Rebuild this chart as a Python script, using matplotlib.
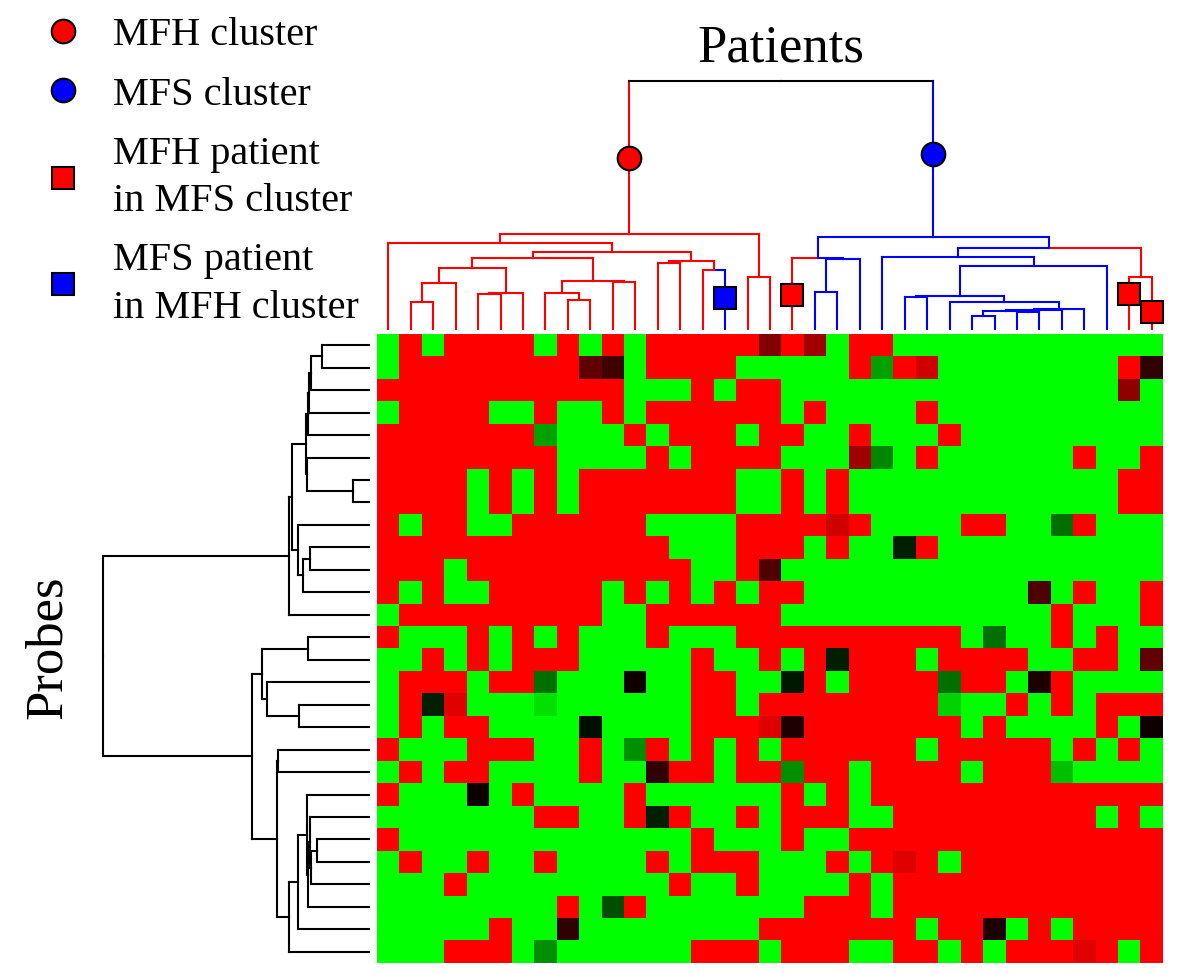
import matplotlib.pyplot as plt
from matplotlib.colors import LinearSegmentedColormap
from matplotlib.lines import Line2D

plt.rcParams["font.family"] = ["Liberation Serif", "DejaVu Serif"]

R, G = 1.0, -1.0

# probe x patient expression (+1 red = up, -1 green = down), rows top to bottom
expression = [
    [G, R, G, R, R, R, R, G, R, G, R, G] + [R] * 5 + [.5, R, .63, G, R, R] + [G] * 12,
    [G] + [R] * 8 + [.38, .25, G] + [R] * 4 + [G] * 5 + [R, -.63, R, .82] + [G] * 8 + [R, .19],
    [R] * 11 + [G, G, G, R, G, R, R] + [G] * 15 + [.56, G],
    [G, R, R, R, R, G, G, R, G, G, R, G] + [R] * 6 + [G, R, G, G, G, G, R] + [G] * 10,
    [R] * 7 + [-.63, G, G, G, R, G, R, R, R, G, R, R, G, G, R, G, G, G, R] + [G] * 9,
    [R] * 8 + [G, G, G, G, R, G, R, R, R, R, G, G, G, .63, -.53, G, R] + [G] * 6 + [R, G, G, R],
    [R, R, R, R, G, R, G, R, G] + [R] * 7 + [G, G, R, G, R] + [G] * 12 + [R, R],
    [R, R, R, R, G, R, G, R, G] + [R] * 7 + [G, G, R, G, R] + [G] * 12 + [R, R],
    [R, G, R, R, G, G] + [R] * 6 + [G] * 4 + [R] * 4 + [.82, R, G, G, G, G, R, R, G, G, -.44, R, G, G, G],
    [R] * 13 + [G, G, G, R, R, R, G, R, G, G, -.12, R] + [G] * 10,
    [R, R, R, G] + [R] * 10 + [G, G, R, .31] + [G] * 17,
    [R, G, R, G, G] + [R] * 5 + [G, R, G, R, G, R, G, R, R] + [G] * 10 + [.31, G, R, G, G, R],
    [G] + [R] * 9 + [G, G] + [R] * 6 + [G] * 12 + [R, G, G, G, R],
    [R, G, G, G, R, G, R, G, R, G, G, G, R, G, G, G] + [R] * 10 + [G, -.44, G, G, R, G, R, G, G],
    [G, G, R, G, R, G, R, R, R] + [G] * 5 + [R, G, G, R, G, R, -.12, R, R, R, G, R, R, R, R, G, G, R, R, G, .38],
    [G, R, R, R, G, R, R, -.44, G, G, G, .06, G, G, R, R, G, G, -.1, R, G, R, R, R, R, -.44, R, R, G, .12, R, G, G, G, G],
    [G, R, -.12, .88, G, G, G, -.88] + [G] * 6 + [R, R, G] + [R] * 8 + [-.82, G, G, R, G, R, G, R, R, R],
    [G, R, G, R, R, G, G, G, G, -.06, G, G, G, G, R, R, R, .88, .12] + [R] * 7 + [G, R, G, G, G, G, R, G, .06],
    [R, G, G, G, R, R, R, G, G, R, G, -.56, R, G, R, G, R, G] + [R] * 6 + [G] + [R] * 5 + [G, R, G, R, G],
    [G, R, G, R, R, G, G, G, G, R, G, G, .19, R, R, G, R, R, -.56, R, R, G, R, R, R, R, G, R, R, R, -.75, G, G, G, G],
    [R, G, G, G, .06, G, R, G, G, G, G, R] + [G] * 6 + [R, G, R, G] + [R] * 13,
    [G] * 7 + [R, R, G, G, R, -.12, R, G, G, R, G, R, R, R, G, G] + [R] * 9 + [G, R, G],
    [R] + [G] * 13 + [R, G, G, G, R, G, G] + [R] * 14,
    [G, R, G, G, R, G, G, R, G, G, G, G, R, G, R, R, R, G, G, G, R, G, R, .88, R, G] + [R] * 9,
    [G, G, G, R] + [G] * 9 + [R, G, G, R, G, G, G, G, R, G] + [R] * 12,
    [G] * 8 + [R, G, -.31, R] + [G] * 7 + [R, R, R, G] + [R] * 12,
    [G] * 5 + [R, G, G, .19] + [G] * 8 + [R] * 7 + [G, R, R, .12, G, R, G, R, R, R, R],
    [G, G, G, R, R, R, G, -.56] + [G] * 6 + [R, R, R, G, R, R, R, G, G, R, R, G, R, G, R, R, R, .88, R, G, R],
]

# patient tree: (left, right, distance); ids >= 35 are earlier merges
patient_merges = [
    (1, 2, 0.28), (35, 3, 0.47), (4, 5, 0.36), (37, 6, 0.37), (36, 38, 0.62),
    (8, 9, 0.30), (7, 40, 0.37), (10, 11, 0.48), (41, 42, 0.49), (39, 43, 0.72),
    (12, 13, 0.67), (14, 15, 0.60), (45, 46, 0.69), (44, 47, 0.78), (0, 48, 0.87),
    (16, 17, 0.53), (49, 50, 0.96),
    (19, 20, 0.38), (52, 21, 0.71), (18, 53, 0.72), (26, 27, 0.14), (28, 29, 0.18),
    (55, 56, 0.19), (57, 30, 0.20), (58, 31, 0.21), (25, 59, 0.28), (23, 24, 0.33),
    (61, 60, 0.34), (62, 32, 0.64), (22, 63, 0.73), (33, 34, 0.53), (64, 65, 0.82),
    (54, 66, 0.93), (51, 67, 2.49),
]
patient_type = ["MFH"] * 15 + ["MFS"] + ["MFH"] * 3 + ["MFS"] * 14 + ["MFH"] * 2
patient_cluster = ["MFH"] * 18 + ["MFS"] * 17
cluster_nodes = [51, 67]
cluster_marker_heights = [1.72, 1.76]
misplaced_patients = [15, 18, 33, 34]
misplaced_heights = [0.32, 0.35, 0.36, 0.18]

# probe tree
probe_merges = [
    (0, 1, 0.48), (28, 2, 0.59), (29, 3, 0.61), (30, 4, 0.62), (6, 7, 0.17),
    (5, 32, 0.63), (31, 33, 0.64), (9, 10, 0.60), (35, 11, 0.67), (8, 36, 0.72),
    (34, 37, 0.78), (38, 12, 0.81), (13, 14, 0.62), (16, 17, 0.71), (15, 41, 1.03),
    (40, 42, 1.08), (22, 23, 0.53), (44, 24, 0.59), (21, 45, 0.60), (46, 25, 0.62),
    (20, 47, 0.63), (48, 26, 0.72), (49, 27, 0.81), (18, 19, 0.92), (51, 50, 0.93),
    (43, 52, 1.18), (39, 53, 2.67),
]

type_color = {"MFH": "#ff0000", "MFS": "#0000ff"}
W, H = 1200, 975
LW = 1.5


def tree_layout(merges, n_leaves):
    pos = [i + 0.5 for i in range(n_leaves)]
    height = [0.0] * n_leaves
    first_leaf = list(range(n_leaves))
    for a, b, h in merges:
        pos.append((pos[a] + pos[b]) / 2)
        height.append(h)
        first_leaf.append(first_leaf[a])
    return pos, height, first_leaf


def draw_tree(ax, merges, n_leaves, colors, vertical=True, root_color="black"):
    pos, height, _ = tree_layout(merges, n_leaves)
    for k, (a, b, h) in enumerate(merges):
        node = n_leaves + k
        is_root = k == len(merges) - 1
        for child in (a, b):
            c = colors[child]
            hc = root_color if is_root else c
            xs1, ys1 = [pos[child], pos[child]], [height[child], h]
            xs2, ys2 = [pos[child], pos[node]], [h, h]
            if not vertical:
                xs1, ys1, xs2, ys2 = ys1, xs1, ys2, xs2
            ax.plot(xs1, ys1, color=c, lw=LW, solid_capstyle="projecting")
            ax.plot(xs2, ys2, color=hc, lw=LW, solid_capstyle="projecting")
    return pos, height


def px_axes(x0, y0, x1, y1):
    return fig.add_axes([x0 / W, 1 - y1 / H, (x1 - x0) / W, (y1 - y0) / H])


fig = plt.figure(figsize=(12, 9.75), dpi=100)

# heatmap
cmap = LinearSegmentedColormap.from_list("gkr", ["#00ff00", "#000000", "#ff0000"])
n_probes, n_patients = len(expression), len(expression[0])
ax_hm = px_axes(377, 334, 1163, 963)
ax_hm.imshow(expression, cmap=cmap, vmin=-1, vmax=1, aspect="auto",
             interpolation="nearest", extent=(0, n_patients, n_probes, 0))
ax_hm.axis("off")

# patient dendrogram
n_p = len(patient_type)
_, _, first = tree_layout(patient_merges, n_p)
node_colors = [type_color[t] for t in patient_type]
for k, (a, b, h) in enumerate(patient_merges):
    if node_colors[a] == node_colors[b]:
        node_colors.append(node_colors[a])
    else:
        node_colors.append(type_color[patient_cluster[first[n_p + k]]])

ax_top = px_axes(377, 70, 1163, 330)
pos, height = draw_tree(ax_top, patient_merges, n_p, node_colors)
for node, h in zip(cluster_nodes, cluster_marker_heights):
    ax_top.plot(pos[node], h, "o", ms=17, mfc=node_colors[node], mec="black",
                mew=1.5, zorder=5)
for leaf, h in zip(misplaced_patients, misplaced_heights):
    ax_top.plot(pos[leaf], h, "s", ms=16.5, mfc=type_color[patient_type[leaf]],
                mec="black", mew=1.5, zorder=5, clip_on=False)
ax_top.set_xlim(0, n_patients)
ax_top.set_ylim(0, 2.6)
ax_top.axis("off")

# probe dendrogram
ax_left = px_axes(95, 334, 370, 963)
n_r = len(expression)
draw_tree(ax_left, probe_merges, n_r, ["black"] * (n_r + len(probe_merges)), vertical=False)
ax_left.set_xlim(2.75, 0)
ax_left.set_ylim(n_probes, 0)
ax_left.axis("off")

fig.text(781 / W, 1 - 62 / H, "Patients", ha="center", va="baseline", fontsize=38)
fig.text(48 / W, 1 - 647 / H, "Probes", rotation=90, ha="center", va="center", fontsize=38)

handles = [
    Line2D([], [], ls="none", marker="o", ms=17, mfc=type_color["MFH"], mec="black", mew=1.5),
    Line2D([], [], ls="none", marker="o", ms=17, mfc=type_color["MFS"], mec="black", mew=1.5),
    Line2D([], [], ls="none", marker="s", ms=16.5, mfc=type_color["MFH"], mec="black", mew=1.5),
    Line2D([], [], ls="none", marker="s", ms=16.5, mfc=type_color["MFS"], mec="black", mew=1.5),
]
labels = ["MFH cluster", "MFS cluster", "MFH patient\nin MFS cluster", "MFS patient\nin MFH cluster"]
leg = fig.legend(handles, labels, loc="upper left", bbox_to_anchor=(43 / W, 1 - 17 / H),
                 frameon=False, fontsize=29, handlelength=1.0, handletextpad=0.74,
                 labelspacing=0.55, borderpad=0, borderaxespad=0)
for t in leg.get_texts():
    t.set_linespacing(1.37)

fig.savefig("out.png", dpi=100)
